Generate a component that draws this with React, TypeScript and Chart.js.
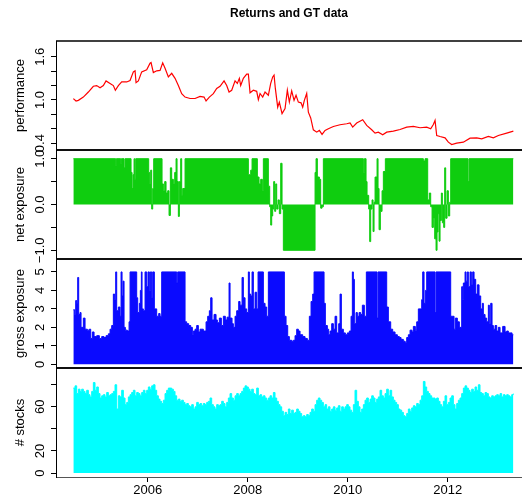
import React, { useEffect, useRef } from 'react';
import { Chart, registerables } from 'chart.js';

Chart.register(...registerables);

const TITLE = 'Returns and GT data';
const X_TICKS = [2006, 2008, 2010, 2012];
const X_MIN = 2004.166;
const X_MAX = 2013.486;

// performance (red line)
const PERF_X = [
  2004.513, 2004.567, 2004.613, 2004.713, 2004.813, 2004.913, 2004.98, 2005.047, 2005.113, 2005.167,
  2005.247, 2005.313, 2005.353, 2005.413, 2005.48, 2005.58, 2005.647, 2005.713, 2005.747, 2005.767,
  2005.813, 2005.88, 2005.98, 2006.047, 2006.067, 2006.113, 2006.18, 2006.247, 2006.3, 2006.347,
  2006.413, 2006.48, 2006.547, 2006.613, 2006.68, 2006.747, 2006.847, 2006.947, 2007.047, 2007.127,
  2007.167, 2007.233, 2007.313, 2007.38, 2007.447, 2007.527, 2007.58, 2007.627, 2007.68, 2007.747,
  2007.793, 2007.833, 2007.86, 2007.913, 2007.98, 2008.013, 2008.047, 2008.113, 2008.18, 2008.213,
  2008.247, 2008.3, 2008.347, 2008.413, 2008.46, 2008.5, 2008.527, 2008.553, 2008.6, 2008.633,
  2008.687, 2008.747, 2008.793, 2008.833, 2008.88, 2008.927, 2008.967, 2009.013, 2009.067, 2009.1,
  2009.133, 2009.18, 2009.213, 2009.26, 2009.313, 2009.38, 2009.433, 2009.487, 2009.547, 2009.613,
  2009.713, 2009.847, 2009.98, 2010.047, 2010.1, 2010.18, 2010.3, 2010.38, 2010.48, 2010.547,
  2010.613, 2010.7, 2010.78, 2010.913, 2011.047, 2011.18, 2011.313, 2011.447, 2011.58, 2011.66,
  2011.713, 2011.747, 2011.78, 2011.847, 2011.947, 2012.013, 2012.08, 2012.18, 2012.313, 2012.447,
  2012.58, 2012.68, 2012.813, 2012.913, 2013.013, 2013.18, 2013.313,
];
const PERF_Y = [
  1.018, 0.986, 0.995, 1.04, 1.11, 1.19, 1.2, 1.17, 1.2, 1.265,
  1.23, 1.2, 1.135, 1.2, 1.25, 1.25, 1.27, 1.39, 1.405, 1.24,
  1.265, 1.39, 1.42, 1.51, 1.52, 1.38, 1.405, 1.41, 1.516, 1.44,
  1.32, 1.37, 1.3, 1.2, 1.088, 1.04, 1.02, 1.02, 1.05, 1.04,
  0.986, 1.04, 1.088, 1.16, 1.19, 1.265, 1.2, 1.11, 1.135, 1.265,
  1.23, 1.3, 1.2, 1.3, 1.36, 1.36, 1.1, 1.135, 1.12, 1.005,
  1.09, 1.04, 1.11, 1.065, 1.23, 1.32, 1.345, 1.16, 0.9, 0.97,
  0.81, 0.88, 1.135, 0.97, 1.125, 0.995, 1.065, 0.97, 0.96, 0.9,
  0.995, 1.09, 0.83, 0.75, 0.586, 0.553, 0.577, 0.521, 0.577, 0.6,
  0.632, 0.656, 0.67, 0.68, 0.623, 0.68, 0.725, 0.647, 0.586, 0.54,
  0.553, 0.516, 0.553, 0.567, 0.59, 0.623, 0.632, 0.614, 0.623, 0.6,
  0.66, 0.716, 0.507, 0.493, 0.474, 0.414, 0.381, 0.4, 0.414, 0.47,
  0.474, 0.46, 0.493, 0.474, 0.507, 0.54, 0.567,
];

// net exposure (green), each value holds until the next date
const NET_X = [
  2004.513, 2005.36, 2005.373, 2005.46, 2005.473, 2005.527, 2005.547, 2005.667, 2005.687, 2005.707,
  2005.727, 2005.74, 2005.76, 2006.02, 2006.04, 2006.06, 2006.08, 2006.1, 2006.12, 2006.287,
  2006.313, 2006.34, 2006.367, 2006.4, 2006.427, 2006.453, 2006.48, 2006.513, 2006.54, 2006.567,
  2006.587, 2006.613, 2006.633, 2006.66, 2006.68, 2006.7, 2006.747, 2008.013, 2008.06, 2008.087,
  2008.193, 2008.227, 2008.26, 2008.293, 2008.313, 2008.413, 2008.44, 2008.46, 2008.48, 2008.5,
  2008.52, 2008.54, 2008.56, 2008.58, 2008.607, 2008.633, 2008.66, 2008.687, 2008.713, 2009.347,
  2009.367, 2009.393, 2009.433, 2009.46, 2009.487, 2009.513, 2010.313, 2010.333, 2010.367, 2010.387,
  2010.42, 2010.44, 2010.46, 2010.487, 2010.507, 2010.527, 2010.547, 2010.587, 2010.607, 2010.627,
  2010.653, 2010.687, 2010.713, 2010.753, 2011.513, 2011.547, 2011.6, 2011.633, 2011.66, 2011.687,
  2011.713, 2011.74, 2011.767, 2011.787, 2011.807, 2011.827, 2011.847, 2011.873, 2011.893, 2011.92,
  2011.94, 2011.96, 2011.987, 2012.013, 2012.04, 2012.06, 2012.407, 2012.427, 2013.313,
];
const NET_Y = [
  1.0, 0.85, 1.0, 0.9, 1.0, 0.8, 1.0, 0.7, 0.35, 0.65,
  1.0, 0.55, 1.0, 0.7, 0.45, 0.75, -0.1, 0.35, 1.0, 0.45,
  0.3, 0.5, 0.25, 0.3, -0.24, 0.8, 0.55, 0.45, 0.7, 1.0,
  0.5, -0.26, 0.5, 1.0, 0.2, 0.35, 1.0, 0.65, 0.75, 1.0,
  0.6, 0.45, 0.55, 0.3, 1.0, 0.4, -0.05, -0.45, -0.25, -0.1,
  0.5, -0.15, 0.45, -0.1, 0.1, -0.2, 0.9, -0.1, -1.0, 0.7,
  1.0, 0.6, 0.55, -0.08, -0.05, 1.0, 0.7, 1.0, 0.5, 0.2,
  -0.1, -0.81, -0.1, 0.1, -0.59, 0.05, 0.6, 1.0, 0.35, -0.55,
  -0.15, 0.3, 0.72, 1.0, 0.95, 1.0, 0.1, 0.25, -0.05, -0.5,
  -0.3, -0.75, -1.0, -0.6, -0.2, -0.8, -0.35, 0.25, -0.4, -0.5,
  0.8, -0.3, 0.3, -0.25, 0.05, 1.0, 0.5, 1.0, 1.0,
];

// gross exposure (blue)
const GROSS_X = [
  2004.513, 2004.54, 2004.56, 2004.58, 2004.6, 2004.62, 2004.647, 2004.667, 2004.713, 2004.747,
  2004.793, 2004.833, 2004.86, 2004.893, 2004.927, 2004.98, 2005.033, 2005.08, 2005.127, 2005.167,
  2005.213, 2005.247, 2005.28, 2005.313, 2005.34, 2005.36, 2005.38, 2005.413, 2005.447, 2005.467,
  2005.487, 2005.507, 2005.527, 2005.553, 2005.593, 2005.627, 2005.647, 2005.78, 2005.8, 2005.833,
  2005.853, 2005.873, 2005.887, 2005.913, 2005.947, 2005.98, 2006.007, 2006.033, 2006.053, 2006.08,
  2006.1, 2006.133, 2006.18, 2006.22, 2006.247, 2006.28, 2006.58, 2006.6, 2006.747, 2006.78,
  2006.82, 2006.86, 2006.893, 2006.913, 2006.947, 2006.98, 2007.013, 2007.047, 2007.113, 2007.167,
  2007.2, 2007.233, 2007.26, 2007.287, 2007.327, 2007.367, 2007.393, 2007.433, 2007.473, 2007.513,
  2007.553, 2007.587, 2007.627, 2007.647, 2007.687, 2007.713, 2007.747, 2007.78, 2007.82, 2007.847,
  2007.887, 2007.913, 2007.947, 2007.98, 2008.013, 2008.033, 2008.06, 2008.087, 2008.113, 2008.147,
  2008.18, 2008.207, 2008.313, 2008.347, 2008.38, 2008.413, 2008.733, 2008.767, 2008.8, 2008.833,
  2008.88, 2008.913, 2008.947, 2008.98, 2009.013, 2009.047, 2009.1, 2009.147, 2009.193, 2009.233,
  2009.267, 2009.3, 2009.327, 2009.527, 2009.553, 2009.593, 2009.62, 2009.647, 2009.68, 2009.713,
  2009.747, 2009.78, 2009.82, 2009.847, 2009.873, 2009.913, 2009.953, 2009.993, 2010.033, 2010.067,
  2010.093, 2010.113, 2010.133, 2010.167, 2010.193, 2010.227, 2010.26, 2010.293, 2010.333, 2010.373,
  2010.587, 2010.607, 2010.78, 2010.813, 2010.86, 2010.9, 2010.947, 2010.993, 2011.033, 2011.067,
  2011.113, 2011.147, 2011.18, 2011.213, 2011.247, 2011.287, 2011.313, 2011.353, 2011.38, 2011.413,
  2011.447, 2011.48, 2011.5, 2011.527, 2011.553, 2011.58, 2011.747, 2011.767, 2012.06, 2012.1,
  2012.127, 2012.153, 2012.193, 2012.233, 2012.28, 2012.3, 2012.313, 2012.347, 2012.367, 2012.393,
  2012.413, 2012.447, 2012.473, 2012.5, 2012.527, 2012.56, 2012.593, 2012.627, 2012.66, 2012.693,
  2012.713, 2012.747, 2012.78, 2012.813, 2012.833, 2012.86, 2012.887, 2012.913, 2012.947, 2012.98,
  2013.013, 2013.047, 2013.1, 2013.147, 2013.18, 2013.213, 2013.247, 2013.287, 2013.313,
];
const GROSS_Y = [
  2.95, 2.7, 3.45, 3.3, 4.7, 2.7, 2.8, 2.0, 2.5, 1.9,
  1.85, 1.9, 1.4, 1.75, 1.5, 1.55, 1.4, 1.5, 1.45, 1.55,
  1.65, 1.9, 2.1, 3.8, 3.5, 5.0, 2.9, 3.1, 2.6, 5.0,
  3.7, 4.5, 2.0, 1.85, 1.8, 2.3, 5.0, 3.6, 2.8, 3.3,
  4.0, 5.0, 3.0, 2.9, 5.0, 4.2, 5.0, 4.0, 5.0, 3.6,
  5.0, 3.0, 2.6, 2.75, 2.6, 5.0, 4.4, 5.0, 2.3, 2.2,
  2.1, 2.0, 1.6, 1.8, 1.9, 2.1, 1.75, 1.9, 1.8, 2.3,
  2.6, 2.9, 3.6, 2.4, 2.7, 2.4, 2.25, 2.5, 2.1, 2.6,
  2.4, 2.55, 4.4, 2.5, 2.2, 2.0, 2.6, 2.9, 3.4, 3.2,
  4.7, 3.6, 3.0, 2.8, 5.0, 3.8, 3.7, 5.0, 3.0, 3.9,
  3.0, 5.0, 3.3, 3.1, 2.6, 5.0, 2.6, 2.1, 1.5, 1.3,
  1.25, 1.3, 1.55, 1.9, 1.8, 1.6, 1.5, 1.4, 1.3, 2.6,
  3.4, 3.8, 5.0, 3.3, 2.1, 1.9, 1.6, 1.8, 2.2, 1.9,
  2.6, 1.7, 2.2, 3.8, 1.9, 1.7, 1.6, 1.7, 1.8, 2.6,
  5.0, 4.6, 2.2, 2.8, 2.6, 2.8, 2.7, 3.2, 2.6, 5.0,
  2.5, 5.0, 3.1, 2.3, 1.9, 1.75, 1.6, 1.5, 1.45, 1.35,
  1.25, 1.2, 1.45, 1.6, 1.85, 1.75, 2.05, 1.85, 2.3, 3.0,
  3.0, 3.5, 5.0, 3.3, 4.0, 5.0, 2.8, 5.0, 2.6, 2.6,
  1.9, 2.5, 2.3, 2.0, 4.2, 3.5, 4.4, 5.0, 4.5, 5.0,
  4.2, 5.0, 4.3, 5.0, 4.6, 3.8, 4.3, 3.7, 3.0, 3.3,
  2.7, 2.5, 2.3, 3.2, 2.2, 3.3, 2.1, 1.9, 2.1, 1.8,
  2.0, 1.7, 2.05, 1.75, 1.8, 1.7, 1.7, 1.6, 1.6,
];

// number of stocks (cyan), regular dates starting mid-2004
const STOCKS_START = 2004.513;
const STOCKS_STEP = 1 / 30;
const STOCKS_Y = [
  77, 79, 72, 76, 74, 76, 74, 72, 75, 71,
  69, 74, 82, 75, 78, 72, 68, 70, 71, 69,
  73, 70, 71, 72, 74, 80, 58, 70, 69, 75,
  68, 62, 64, 69, 71, 73, 75, 70, 73, 72,
  70, 73, 75, 72, 75, 78, 76, 79, 80, 75,
  70, 67, 65, 63, 66, 72, 75, 77, 77, 76,
  74, 70, 66, 67, 65, 66, 64, 62, 63, 61,
  60, 62, 58, 60, 64, 62, 63, 61, 63, 62,
  64, 65, 68, 62, 60, 58, 62, 61, 62, 65,
  63, 60, 64, 68, 72, 68, 66, 70, 72, 70,
  72, 74, 77, 79, 78, 76, 74, 76, 72, 71,
  77, 70, 71, 69, 70, 68, 66, 68, 70, 68,
  73, 68, 65, 62, 60, 56, 52, 55, 53, 58,
  54, 57, 54, 55, 58, 56, 54, 51, 52, 51,
  53, 52, 55, 58, 56, 62, 66, 68, 66, 64,
  60, 62, 58, 60, 56, 58, 60, 57, 59, 61,
  56, 60, 58, 60, 62, 60, 57, 55, 62, 75,
  65, 60, 55, 58, 62, 66, 68, 64, 67, 70,
  68, 64, 67, 69, 75, 70, 68, 72, 76, 70,
  75, 69, 66, 64, 62, 58, 57, 55, 52, 51,
  54, 58, 56, 59, 61, 60, 63, 62, 66, 70,
  83, 78, 74, 72, 70, 68, 68, 67, 68, 65,
  62, 60, 65, 70, 62, 64, 68, 70, 62, 58,
  63, 66, 68, 72, 77, 79, 77, 75, 73, 76,
  74, 78, 75, 80, 73, 72, 70, 73, 72, 69,
  68, 70, 69, 70, 71, 70, 72, 69, 71, 70,
  71, 70, 69, 71, 72,
];

const PANELS = [
  { id: 'yPerf', title: 'performance', min: 0.305, max: 1.819, ticks: [0.4, 0.6, 0.8, 1.0, 1.2, 1.4, 1.6], labels: ['0.4', '1.0', '1.6'], labelValues: [0.4, 1.0, 1.6], weight: 4 },
  { id: 'yNet', title: 'net exposure', min: -1.19, max: 1.19, ticks: [-1, -0.5, 0, 0.5, 1], labels: ['\u22121.0', '0.0', '1.0'], labelValues: [-1, 0, 1], weight: 3 },
  { id: 'yGross', title: 'gross exposure', min: -0.2, max: 5.7, ticks: [0, 1, 2, 3, 4, 5], labels: ['0', '1', '2', '3', '4', '5'], labelValues: [0, 1, 2, 3, 4, 5], weight: 2 },
  { id: 'yStocks', title: '# stocks', min: -3.6, max: 95.2, ticks: [0, 20, 40, 60, 80], labels: ['0', '20', '60'], labelValues: [0, 20, 60], weight: 1 },
];

const FONT = '"Liberation Sans", Arial, Helvetica, sans-serif';

const decorPlugin = {
  id: 'decor',
  afterDraw(chart: any) {
    const ctx = chart.ctx;
    const area = chart.chartArea;
    ctx.save();
    ctx.strokeStyle = '#000';
    ctx.lineWidth = 1.6;
    PANELS.forEach((p, i) => {
      const s = chart.scales[p.id];
      const ys = i < PANELS.length - 1 ? [s.top, s.bottom] : [s.top];
      ys.forEach((y: number) => {
        ctx.beginPath();
        ctx.moveTo(area.left, y);
        ctx.lineTo(area.right, y);
        ctx.stroke();
      });
    });
    ctx.fillStyle = '#000';
    ctx.textAlign = 'center';
    ctx.textBaseline = 'middle';
    PANELS.forEach((p) => {
      const s = chart.scales[p.id];
      ctx.font = '13px ' + FONT;
      p.labelValues.forEach((v, k) => {
        ctx.save();
        ctx.translate(40, s.getPixelForValue(v));
        ctx.rotate(-Math.PI / 2);
        ctx.fillText(p.labels[k], 0, 0);
        ctx.restore();
      });
      ctx.save();
      ctx.translate(20, (s.top + s.bottom) / 2);
      ctx.rotate(-Math.PI / 2);
      ctx.fillText(p.title, 0, 0);
      ctx.restore();
    });
    ctx.font = 'bold 12px ' + FONT;
    ctx.fillText(TITLE, (area.left + area.right) / 2, 14);
    ctx.restore();
  },
};

function pts(xs: number[], ys: number[]) {
  return ys.map((y, i) => ({ x: xs[i], y }));
}

export default function App() {
  const ref = useRef<HTMLCanvasElement | null>(null);
  useEffect(() => {
    if (!ref.current) return;
    const stocksX = STOCKS_Y.map((_, i) => STOCKS_START + i * STOCKS_STEP);
    const scales: any = {
      x: {
        type: 'linear',
        min: X_MIN,
        max: X_MAX,
        afterBuildTicks: (s: any) => { s.ticks = X_TICKS.map((v) => ({ value: v })); },
        afterFit: (s: any) => { s.height = 23; },
        ticks: { color: '#000', font: { family: FONT, size: 13 }, padding: 1, maxRotation: 0, callback: (v: any) => String(v) },
        grid: { drawOnChartArea: false, drawTicks: true, tickLength: 5, color: '#000' },
        border: { display: true, color: '#555', width: 1 },
      },
    };
    PANELS.forEach((p) => {
      scales[p.id] = {
        type: 'linear',
        position: 'left',
        stack: 'panels',
        stackWeight: 1,
        weight: p.weight,
        min: p.min,
        max: p.max,
        afterBuildTicks: (s: any) => { s.ticks = p.ticks.map((v) => ({ value: v })); },
        afterFit: (s: any) => { s.width = 56; },
        ticks: { display: false },
        grid: { drawOnChartArea: false, drawTicks: true, tickLength: 5, color: '#000', lineWidth: 1 },
        border: { display: true, color: '#000', width: 1 },
      };
    });
    const area = (data: any, id: string, color: string) => ({
      data,
      yAxisID: id,
      xAxisID: 'x',
      borderColor: color,
      backgroundColor: color,
      borderWidth: 1,
      fill: 'origin',
      stepped: true,
      pointRadius: 0,
      pointHoverRadius: 0,
    });
    const chart = new Chart(ref.current, {
      type: 'line',
      data: {
        datasets: [
          { data: pts(PERF_X, PERF_Y), yAxisID: 'yPerf', xAxisID: 'x', borderColor: '#ff0000', borderWidth: 1.2, pointRadius: 0, pointHoverRadius: 0, fill: false, tension: 0 },
          area(pts(NET_X, NET_Y), 'yNet', '#0fcd0f'),
          area(pts(GROSS_X, GROSS_Y), 'yGross', '#0a0aff'),
          area(pts(stocksX, STOCKS_Y), 'yStocks', '#00ffff'),
        ] as any,
      },
      options: {
        responsive: false,
        animation: false,
        events: [],
        layout: { padding: { top: 41, left: 0, right: 0, bottom: 0 } },
        plugins: { legend: { display: false }, tooltip: { enabled: false }, title: { display: false } },
        scales,
      } as any,
      plugins: [decorPlugin],
    });
    return () => chart.destroy();
  }, []);
  return (
    <div style={{ position: 'absolute', left: 0, top: 0, width: 522, height: 500, background: '#fff' }}>
      <canvas ref={ref} width={522} height={500} style={{ width: 522, height: 500, display: 'block' }} />
    </div>
  );
}
